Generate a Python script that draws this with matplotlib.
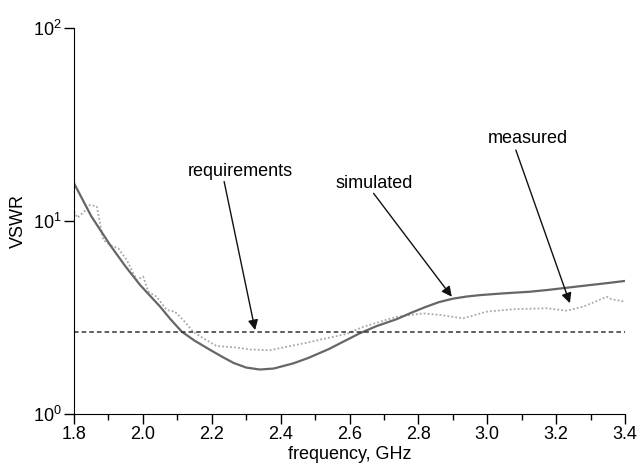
import numpy as np
import matplotlib
matplotlib.use("Agg")
import matplotlib.pyplot as plt
from matplotlib.ticker import MultipleLocator, NullLocator, LogLocator, FormatStrFormatter

plt.rcParams['font.family'] = ['Liberation Sans', 'DejaVu Sans']

# simulated VSWR (solid)
sim_f = [1.80, 1.85, 1.905, 1.95, 1.992, 2.05, 2.08, 2.113, 2.15, 2.195,
         2.23, 2.263, 2.30, 2.34, 2.38, 2.437, 2.48, 2.54, 2.58, 2.63,
         2.68, 2.737, 2.78, 2.82, 2.86, 2.901, 2.94, 2.979, 3.05, 3.124,
         3.18, 3.24, 3.30, 3.35, 3.40]
sim_v = [15.7, 10.6, 7.5, 5.8, 4.66, 3.6, 3.1, 2.67, 2.40, 2.15,
         1.98, 1.84, 1.74, 1.70, 1.72, 1.83, 1.95, 2.17, 2.36, 2.62,
         2.86, 3.10, 3.35, 3.58, 3.80, 3.96, 4.06, 4.13, 4.22, 4.30,
         4.40, 4.53, 4.66, 4.77, 4.89]

# measured VSWR (dotted)
meas_f = [1.80, 1.81, 1.83, 1.846, 1.866, 1.885, 1.905, 1.929, 1.953, 1.982,
          2.001, 2.016, 2.04, 2.069, 2.093, 2.117, 2.146, 2.175, 2.214, 2.272,
          2.311, 2.369, 2.418, 2.476, 2.534, 2.592, 2.64, 2.737, 2.814, 2.863,
          2.93, 2.998, 3.076, 3.173, 3.231, 3.279, 3.347, 3.361, 3.40]
meas_v = [11.2, 10.4, 11.2, 12.1, 11.9, 7.97, 7.5, 7.2, 6.28, 4.95,
          5.15, 4.30, 4.05, 3.46, 3.39, 3.07, 2.67, 2.47, 2.25, 2.21,
          2.16, 2.14, 2.23, 2.34, 2.47, 2.60, 2.83, 3.19, 3.32, 3.26,
          3.13, 3.39, 3.49, 3.53, 3.43, 3.60, 4.05, 3.93, 3.82]

req_level = 2.67

fig = plt.figure(figsize=(6.4, 4.66), dpi=100)
ax = fig.add_axes([0.1156, 0.1116, 0.861, 0.8284])

ax.plot(meas_f, meas_v, color='#a8a8a8', lw=1.3, ls=(0, (1, 1.2)))
ax.plot(sim_f, sim_v, color='#666666', lw=1.6)
ax.axhline(req_level, color='#333333', lw=1.1, ls=(0, (3, 2)))

ax.set_yscale('log')
ax.set_xlim(1.8, 3.4)
ax.set_ylim(1, 100)
ax.xaxis.set_major_locator(MultipleLocator(0.2))
ax.xaxis.set_minor_locator(MultipleLocator(0.1))
ax.yaxis.set_major_locator(LogLocator(base=10, numticks=5))
ax.yaxis.set_minor_locator(NullLocator())
ax.xaxis.set_major_formatter(FormatStrFormatter('%.1f'))
ax.tick_params(which='major', direction='out', length=7, width=1, labelsize=13, pad=2)
ax.tick_params(which='minor', direction='out', length=4, width=1)
for s in ['top', 'right']:
    ax.spines[s].set_visible(False)

ax.set_xlabel('frequency, GHz', fontsize=13, labelpad=2)
ax.set_ylabel('VSWR', fontsize=13, labelpad=4)

arrow = dict(arrowstyle='-|>', color='#111111', lw=1.0, mutation_scale=15,
             shrinkA=0, shrinkB=0)
ax.annotate('', xy=(2.326, 2.72), xytext=(2.236, 16.0), arrowprops=arrow)
ax.text(2.282, 18.0, 'requirements', ha='center', va='center', fontsize=13)
ax.annotate('', xy=(2.897, 4.05), xytext=(2.670, 13.9), arrowprops=arrow)
ax.text(2.672, 15.7, 'simulated', ha='center', va='center', fontsize=13)
ax.annotate('', xy=(3.240, 3.75), xytext=(3.083, 23.3), arrowprops=arrow)
ax.text(3.119, 26.8, 'measured', ha='center', va='center', fontsize=13)

fig.savefig('out.png', dpi=100)
